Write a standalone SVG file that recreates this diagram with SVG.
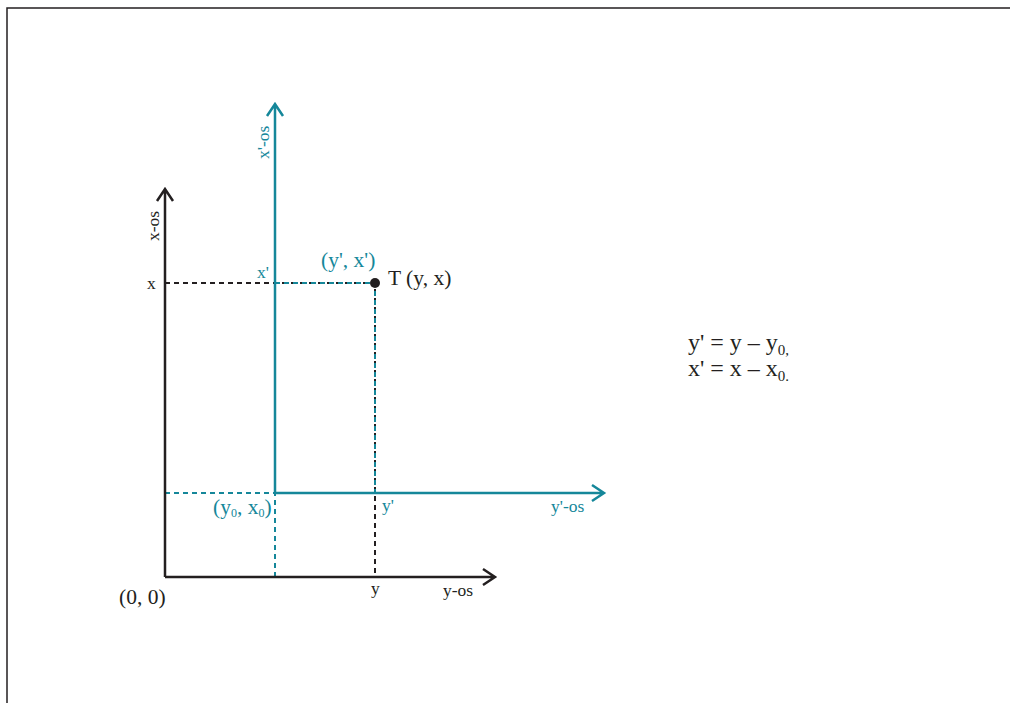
<svg xmlns="http://www.w3.org/2000/svg" width="1010" height="703" viewBox="0 0 1010 703">
<style>
text{font-family:"Liberation Serif","DejaVu Serif",serif;fill:#231f20}
.t{fill:#15879a}
.ax{stroke:#231f20;stroke-width:2.5;fill:none}
.axt{stroke:#15879a;stroke-width:2.5;fill:none}
.db{stroke:#231f20;stroke-width:2;stroke-dasharray:5 4;fill:none}
.dt{stroke:#15879a;stroke-width:2;stroke-dasharray:5 4;fill:none}
.s{font-size:17.5px}
.m{font-size:21.5px}
.l{font-size:24px}
</style>
<rect width="1010" height="703" fill="#fff"/>
<path d="M7 703V8H1010" stroke="#231f20" stroke-width="1.5" fill="none"/>
<g id="connectors">
<path class="db" d="M165 283H375V577"/>
<path class="dt" d="M275 283H375V493"/>
<path class="dt" d="M165 493H275V577"/>
<path class="ax" d="M165 577V189M157 201L165 189L173 201"/>
<path class="ax" d="M165 577H494M483 569L495 577L483 585"/>
<path class="axt" d="M275 493V104M267 116L275 104L283 116"/>
<path class="axt" d="M275 493H604M592 485L604 493L592 501"/>
</g>
<g id="point-T">
<circle cx="375" cy="283" r="5" fill="#231f20"/>
<text class="m" x="388" y="285">T (y, x)</text>
</g>
<g id="point-prime">
<text class="m t" x="321" y="267">(y', x')</text>
</g>
<g id="origin-prime">
<text class="m t" x="213" y="514">(y<tspan font-size="12" dy="3">0</tspan><tspan dy="-3">, x</tspan><tspan font-size="12" dy="3">0</tspan><tspan dy="-3">)</tspan></text>
</g>
<g id="origin">
<text class="m" x="119" y="604">(0, 0)</text>
</g>
<g id="labels">
<text class="s" x="147" y="289">x</text>
<text class="s t" x="257" y="278">x'</text>
<text class="s" x="371" y="594">y</text>
<text class="s t" x="382" y="511">y'</text>
<text class="s" x="443" y="596">y-os</text>
<text class="s t" x="551" y="512">y'-os</text>
<text class="s" transform="translate(159 241) rotate(-90)">x-os</text>
<text class="s t" transform="translate(269 159) rotate(-90)">x'-os</text>
</g>
<g id="equations">
<text class="l" x="688" y="350">y' = y – y<tspan font-size="15" dy="5">0,</tspan></text>
<text class="l" x="688" y="376">x' = x – x<tspan font-size="15" dy="5">0.</tspan></text>
</g>
</svg>
